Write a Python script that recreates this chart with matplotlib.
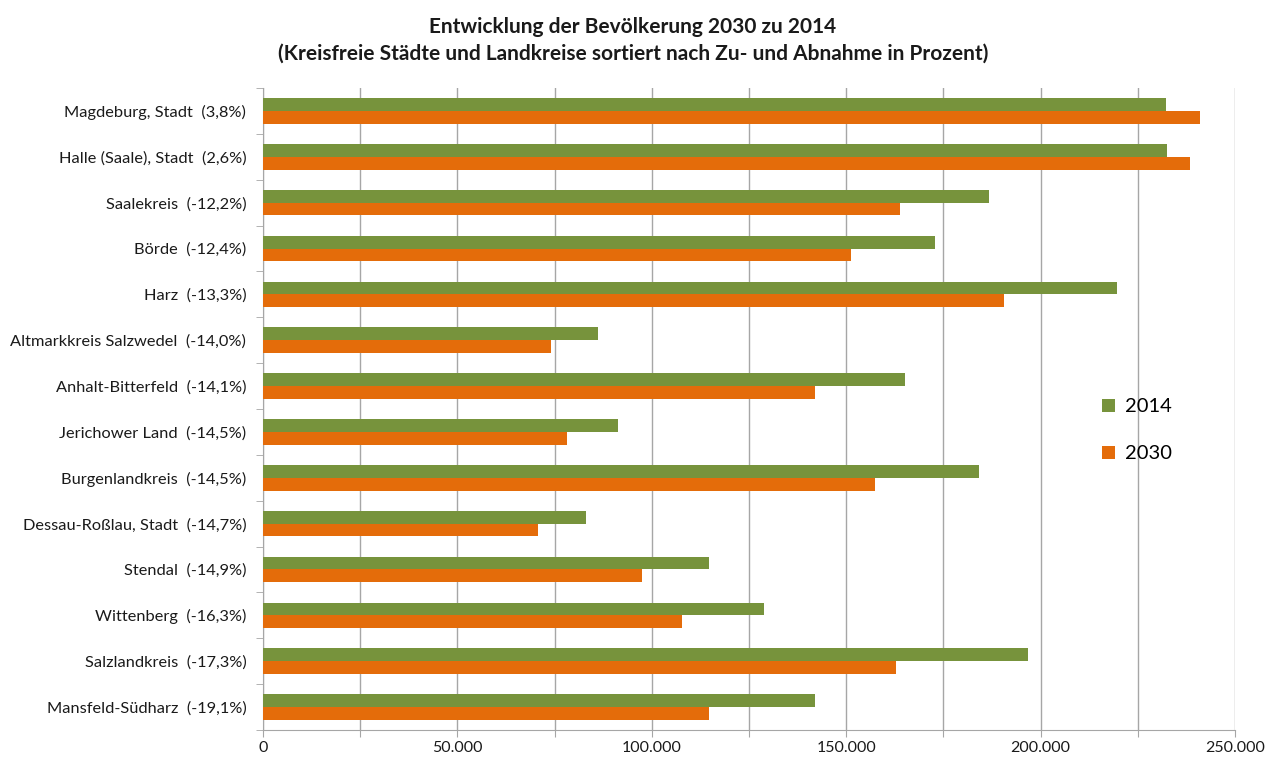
import numpy as np
import matplotlib
matplotlib.use("Agg")
from matplotlib import pyplot as plt
from matplotlib.ticker import FuncFormatter

plt.rcParams['font.family'] = ['Lato', 'DejaVu Sans']

labels = ['Magdeburg, Stadt  (3,8%)', 'Halle (Saale), Stadt  (2,6%)',
          'Saalekreis  (-12,2%)', 'Börde  (-12,4%)', 'Harz  (-13,3%)',
          'Altmarkkreis Salzwedel  (-14,0%)', 'Anhalt-Bitterfeld  (-14,1%)',
          'Jerichower Land  (-14,5%)', 'Burgenlandkreis  (-14,5%)',
          'Dessau-Roßlau, Stadt  (-14,7%)', 'Stendal  (-14,9%)',
          'Wittenberg  (-16,3%)', 'Salzlandkreis  (-17,3%)',
          'Mansfeld-Südharz  (-19,1%)']
pop_2014 = [232300, 232400, 186700, 172800, 219600, 86200, 165100,
            91300, 184200, 83100, 114700, 128900, 196800, 142000]
pop_2030 = [241100, 238500, 163800, 151200, 190600, 74100, 142000,
            78200, 157400, 70700, 97500, 107800, 162800, 114700]

green = '#77933C'
orange = '#E46C0A'
grid_col = '#A6A6A6'

fig = plt.figure(figsize=(12.66, 7.6), dpi=100)
ax = fig.add_axes([0.2077, 0.0395, 0.7678, 0.8447])

y = np.arange(len(labels))
h = 0.28
ax.barh(y - h / 2, pop_2014, height=h, color=green, label='2014', zorder=3)
ax.barh(y + h / 2, pop_2030, height=h, color=orange, label='2030', zorder=3)

ax.set_ylim(len(labels) - 0.5, -0.5)
ax.set_xlim(0, 250000)
ax.set_yticks(y)
ax.set_yticklabels(labels, fontsize=11.8, color='#1a1a1a')
ax.set_yticks(np.arange(len(labels) + 1) - 0.5, minor=True)
ax.tick_params(axis='y', which='major', length=0, pad=12)
ax.tick_params(axis='y', which='minor', length=5, color=grid_col, direction='out')

ax.set_xticks(np.arange(0, 250001, 25000))
ax.xaxis.set_major_formatter(FuncFormatter(
    lambda v, p: '' if v % 50000 else f'{int(v):,}'.replace(',', '.')))
ax.tick_params(axis='x', length=5, color=grid_col, labelsize=11.5,
               labelcolor='#1a1a1a', pad=3)
ax.grid(axis='x', color=grid_col, linewidth=1, zorder=0)

for s in ['top', 'right']:
    ax.spines[s].set_visible(False)
for s in ['left', 'bottom']:
    ax.spines[s].set_color(grid_col)

ax.legend(loc='upper left', bbox_to_anchor=(0.845, 0.545), frameon=False,
          fontsize=14.5, labelspacing=1.5, handlelength=0.6, handleheight=0.6,
          handletextpad=0.5)

fig.text(0.5, 0.978, 'Entwicklung der Bevölkerung 2030 zu 2014', ha='center',
         va='top', fontsize=15, fontweight='bold', color='#1a1a1a')
fig.text(0.5, 0.942, '(Kreisfreie Städte und Landkreise sortiert nach Zu- und Abnahme in Prozent)',
         ha='center', va='top', fontsize=15, fontweight='bold', color='#1a1a1a')

fig.savefig('out.png', dpi=100)
